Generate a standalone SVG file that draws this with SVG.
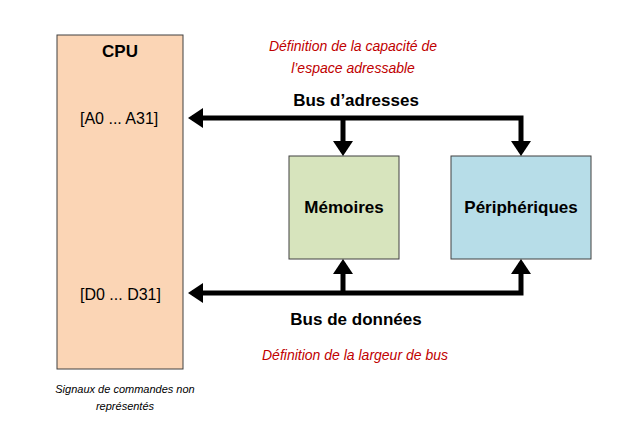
<svg xmlns="http://www.w3.org/2000/svg" width="622" height="442" viewBox="0 0 622 442">
<style>
text{font-family:"Liberation Sans",Arial,sans-serif}
.b{font-weight:bold;font-size:17px}
.r{font-size:16px}
.red{fill:#C00000;font-style:italic;font-size:14px}
.s{font-style:italic;font-size:11px}
.bus{stroke:#000;stroke-width:5;fill:none}
</style>
<defs><marker id="a" markerWidth="4" markerHeight="4" refX="2.2" refY="2" orient="auto-start-reverse" markerUnits="strokeWidth"><path d="M0,0 L3,2 L0,4 z" fill="#000"/></marker></defs>
<rect width="622" height="442" fill="#fff"/>
<g id="cpu"><rect x="57" y="35" width="126" height="334" fill="#FBD5B5" stroke="#404040" stroke-width="1"/>
<text x="120" y="57" class="b" text-anchor="middle">CPU</text>
<text x="80" y="124" class="r">[A0 ... A31]</text>
<text x="80" y="300" class="r">[D0 ... D31]</text></g>
<g id="mem"><rect x="289" y="156" width="110" height="103" fill="#D7E4BD" stroke="#404040"/>
<text x="344" y="213" class="b" text-anchor="middle">Mémoires</text></g>
<g id="per"><rect x="451" y="156" width="140" height="103" fill="#B7DDE8" stroke="#404040"/>
<text x="521" y="213" class="b" text-anchor="middle">Périphériques</text></g>
<g id="connectors">
<path class="bus" d="M521,152 V118 H192" marker-start="url(#a)" marker-end="url(#a)"/>
<path class="bus" d="M343,118 V152" marker-end="url(#a)"/>
<path class="bus" d="M192,293 H521 V263" marker-start="url(#a)" marker-end="url(#a)"/>
<path class="bus" d="M343,293 V263" marker-end="url(#a)"/>
</g>
<text x="356" y="106" class="b" text-anchor="middle">Bus d’adresses</text>
<text x="356" y="325" class="b" text-anchor="middle">Bus de données</text>
<text x="353" y="51" class="red" text-anchor="middle">Définition de la capacité de</text>
<text x="353" y="73" class="red" text-anchor="middle">l’espace adressable</text>
<text x="355" y="360" class="red" text-anchor="middle">Définition de la largeur de bus</text>
<text x="125" y="393" class="s" text-anchor="middle">Signaux de commandes non</text>
<text x="125" y="410" class="s" text-anchor="middle">représentés</text>
</svg>
